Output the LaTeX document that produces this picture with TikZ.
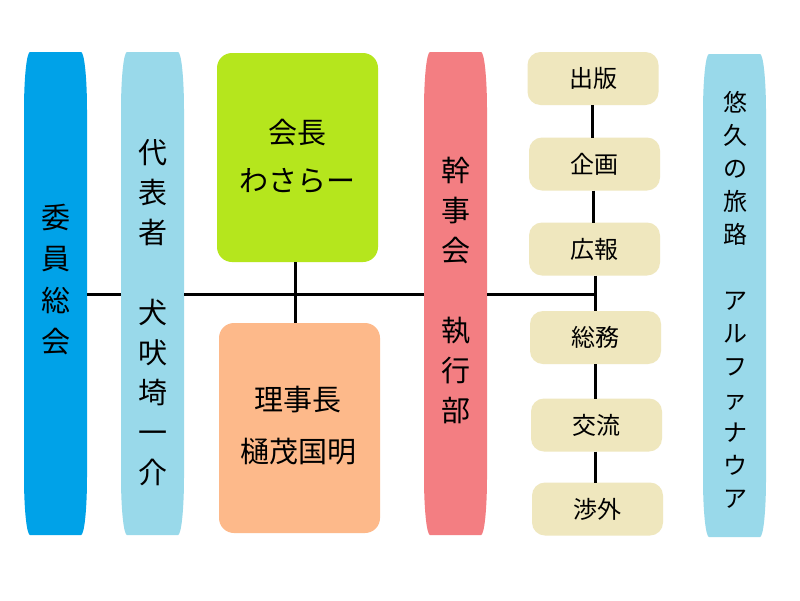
\documentclass[tikz,border=0pt]{standalone}
\usepackage{fontspec}
\newfontfamily\cjk{Noto Sans CJK JP}
\usetikzlibrary{backgrounds}
\definecolor{cblue}{HTML}{00A2E8}
\definecolor{clblue}{HTML}{99D9EA}
\definecolor{cgreen}{HTML}{B5E61D}
\definecolor{corange}{HTML}{FDB98A}
\definecolor{cpink}{HTML}{F37E82}
\definecolor{ccream}{HTML}{EFE7BE}
\newcommand\pillfill[2]{%
  \fill[#2] ([yshift=58pt]#1.south west) -- ([yshift=-58pt]#1.north west)
    arc[start angle=180,end angle=90,x radius=6pt,y radius=58pt]
    -- ([xshift=-6pt]#1.north east)
    arc[start angle=90,end angle=0,x radius=6pt,y radius=58pt]
    -- ([yshift=58pt]#1.south east)
    arc[start angle=0,end angle=-90,x radius=6pt,y radius=58pt]
    -- ([xshift=6pt]#1.south west)
    arc[start angle=270,end angle=180,x radius=6pt,y radius=58pt] -- cycle;}
\tikzset{
  pillshape/.style={minimum width=63pt,minimum height=483pt,inner sep=0pt,outer sep=0pt},
  bigbox/.style={fill=#1,rounded corners=15pt,minimum width=161pt,minimum height=209pt,inner sep=0pt,outer sep=0pt},
  smallbox/.style={fill=ccream,rounded corners=13pt,minimum width=131pt,minimum height=53pt,inner sep=0pt,outer sep=0pt,font=\cjk\fontsize{24}{28}\selectfont},
  bigtxt/.style={align=center,inner sep=0pt,font=\cjk\fontsize{29}{#1}\selectfont},
  conn/.style={line width=3pt,black},
}
\begin{document}
\begin{tikzpicture}[x=1pt,y=-1pt]
\useasboundingbox (0,0) rectangle (800,600);
\fill[white] (0,0) rectangle (800,600);
% pills
\node[pillshape] (iin) at (55.5,293.5) {};
\node[pillshape] (daihyo) at (152.5,293.5) {};
\node[pillshape] (kanji) at (455.5,293.5) {};
\node[pillshape] (yukyu) at (734.5,295.5) {};
\pillfill{iin}{cblue}
\pillfill{daihyo}{clblue}
\pillfill{kanji}{cpink}
\pillfill{yukyu}{clblue}
% boxes
\node[bigbox=cgreen] (kaicho) at (297.5,157.5) {};
\node[bigbox=corange,minimum height=210pt] (rijicho) at (299.5,428) {};
\node[smallbox] (shuppan) at (593,78.5) {出版};
\node[smallbox] (kikaku) at (594.5,164) {企画};
\node[smallbox] (kouhou) at (594.5,249) {広報};
\node[smallbox] (soumu) at (595.5,337.5) {総務};
\node[smallbox] (kouryu) at (596.5,425) {交流};
\node[smallbox] (shougai) at (597.5,509) {渉外};
% texts
\node[bigtxt=41.5pt] (iinT) at (55.5,279.5) {委\\員\\総\\会};
\node[bigtxt=40pt] (daihyoT) at (152.5,313) {代\\表\\者\\\mbox{}\\犬\\吠\\埼\\一\\介};
\node[bigtxt=48pt] (kaichoT) at (297,156) {会長\\わさらー};
\node[bigtxt=52pt] (rijichoT) at (298,426) {理事長\\樋茂国明};
\node[bigtxt=40pt] (kanjiT) at (455.5,290) {幹\\事\\会\\\mbox{}\\執\\行\\部};
\node[align=center,inner sep=0pt,font=\cjk\fontsize{24}{33}\selectfont] (yukyuT) at (735,300)
  {悠\\久\\の\\旅\\路\\\mbox{}\\ア\\ル\\フ\\ァ\\ナ\\ウ\\ア};
% connectors
\coordinate (hy) at (0,294);
\coordinate (junc) at (595,294);
\draw[conn] (iin.east |- hy) -- (daihyo.west |- hy);
\draw[conn] (daihyo.east |- hy) -- (kanji.west |- hy);
\draw[conn] (kanji.east |- hy) -- (junc);
\draw[conn] ([xshift=-2.5pt]kaicho.south) -- ([xshift=-2.5pt]kaicho.south |- rijicho.north);
\draw[conn] (shuppan.south -| 592,0) -- (kikaku.north -| 592,0);
\draw[conn] (kikaku.south -| 593,0) -- (kouhou.north -| 593,0);
\draw[conn] (kouhou.south -| junc) -- (soumu.north -| junc);
\draw[conn] (soumu.south -| junc) -- (kouryu.north -| junc);
\draw[conn] (kouryu.south -| junc) -- (shougai.north -| junc);
\end{tikzpicture}
\end{document}
